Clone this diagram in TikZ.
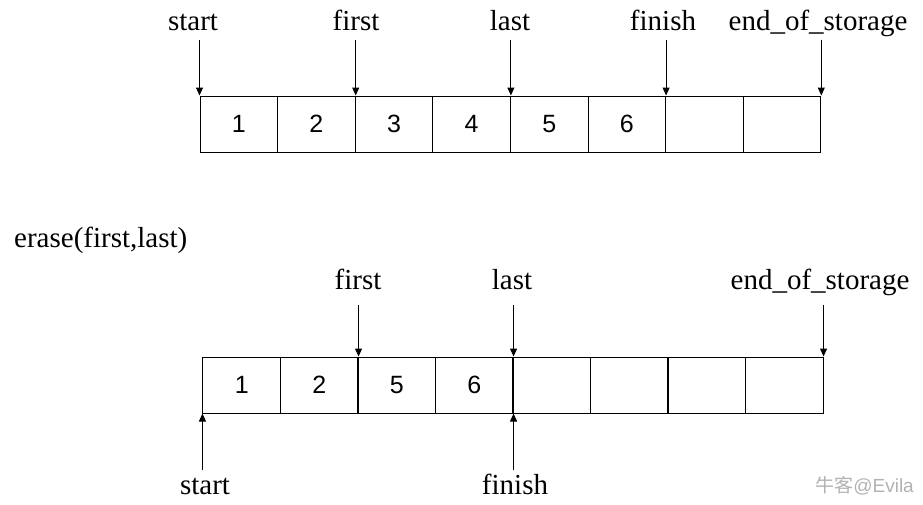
\documentclass[tikz,border=0pt]{standalone}
\usepackage{fontspec}
\setmainfont{Liberation Serif}
\newfontfamily\numfont{Liberation Sans}
\newfontfamily\cjk{Noto Sans CJK SC}
\usepackage{tikz}
\usetikzlibrary{arrows.meta}

\tikzset{
  cell/.style={draw, line width=1pt, minimum width=77.6pt, minimum height=56pt,
    inner sep=0pt, font=\numfont\fontsize{25}{27}\selectfont},
  lbl/.style={anchor=base, inner sep=0pt, font=\fontsize{29}{31}\selectfont},
  ptr/.style={line width=1pt, -{Triangle[width=7pt,length=8pt]}}
}

\begin{document}
\begin{tikzpicture}[x=1pt,y=-1pt]
    \useasboundingbox (0,0) rectangle (923,504);

    % First vector
    \foreach \v [count=\i] in {1,2,3,4,5,6,{},{}}
        \node[cell] (t\i) at ({200+77.6*(\i-0.5)},124) {\v};

    \node[lbl] (tstart)  at (193,30) {start};
    \node[lbl] (tfirst)  at (356,30) {first};
    \node[lbl] (tlast)   at (510,30) {last};
    \node[lbl] (tfinish) at (663,30) {finish};
    \node[lbl] (tend)    at (818,30) {end\_of\_storage};

    \coordinate (ta) at ([yshift=56pt]t1.north west);
    \coordinate (tb) at ([yshift=56pt]t2.north east);
    \coordinate (tc) at ([yshift=56pt]t4.north east);
    \coordinate (td) at ([yshift=56pt]t6.north east);
    \coordinate (te) at ([yshift=56pt]t8.north east);
    \draw[ptr] (ta) -- (t1.north west);
    \draw[ptr] (tb) -- (t2.north east);
    \draw[ptr] (tc) -- (t4.north east);
    \draw[ptr] (td) -- (t6.north east);
    \draw[ptr] (te) -- (t8.north east);

    % Call
    \node[lbl, anchor=base west] (call) at (14,247) {erase(first,last)};

    % Second vector
    \foreach \v [count=\i] in {1,2,5,6,{},{},{},{}}
        \node[cell] (b\i) at ({203+77.5*(\i-0.5)},385) {\v};

    \node[lbl] (bfirst) at (358,289) {first};
    \node[lbl] (blast)  at (512,289) {last};
    \node[lbl] (bend)   at (820,289) {end\_of\_storage};
    \node[lbl] (bstart)  at (205,494) {start};
    \node[lbl] (bfinish) at (515,494) {finish};

    \coordinate (ba) at ([yshift=52pt]b2.north east);
    \coordinate (bb) at ([yshift=52pt]b4.north east);
    \coordinate (bc) at ([yshift=52pt]b8.north east);
    \coordinate (bd) at ([yshift=-56pt]b1.south west);
    \coordinate (be) at ([yshift=-56pt]b4.south east);
    \draw[ptr] (ba) -- (b2.north east);
    \draw[ptr] (bb) -- (b4.north east);
    \draw[ptr] (bc) -- (b8.north east);
    \draw[ptr] (bd) -- (b1.south west);
    \draw[ptr] (be) -- (b4.south east);

    % Watermark
    \node[anchor=base east, inner sep=0pt, text=black!30,
      font=\numfont\fontsize{19}{21}\selectfont] (mark) at (914,492)
      {{\cjk 牛客}@Evila};
\end{tikzpicture}
\end{document}
